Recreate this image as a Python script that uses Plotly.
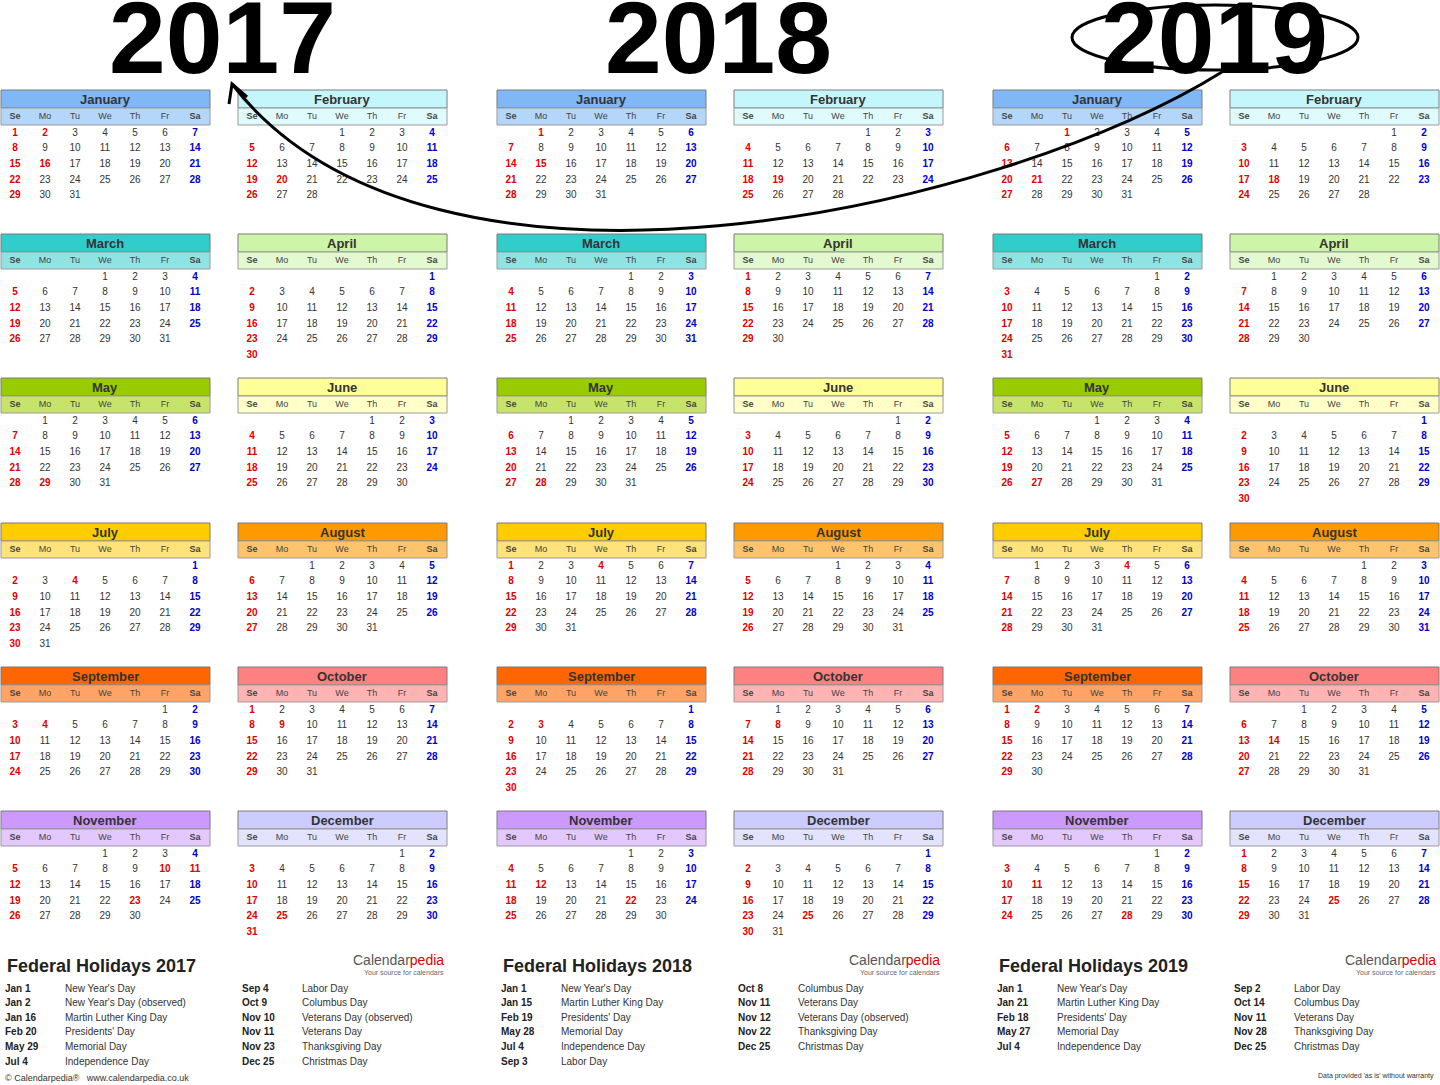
import calendar
import plotly.graph_objects as go

years = [2017, 2018, 2019]
month_names = ["January", "February", "March", "April", "May", "June", "July",
               "August", "September", "October", "November", "December"]
head_colors = ["#80b8f5", "#c4f7fc", "#33cccc", "#ccf5a8", "#99cc00", "#ffff99",
               "#ffcc00", "#ff9900", "#ff6600", "#ff8080", "#cc99ff", "#ccccff"]
sub_colors = ["#b3d6fa", "#e0fbfe", "#8fe3e3", "#e3fad0", "#c7e36b", "#ffffc8",
              "#ffe27a", "#ffc46b", "#ffa366", "#ffb3b3", "#e3c8ff", "#e3e3ff"]
weekdays = ["Se", "Mo", "Tu", "We", "Th", "Fr", "Sa"]
holidays = {
    2017: [("Jan 1", "New Year's Day"), ("Jan 2", "New Year's Day (observed)"),
           ("Jan 16", "Martin Luther King Day"), ("Feb 20", "Presidents' Day"),
           ("May 29", "Memorial Day"), ("Jul 4", "Independence Day"),
           ("Sep 4", "Labor Day"), ("Oct 9", "Columbus Day"),
           ("Nov 10", "Veterans Day (observed)"), ("Nov 11", "Veterans Day"),
           ("Nov 23", "Thanksgiving Day"), ("Dec 25", "Christmas Day")],
    2018: [("Jan 1", "New Year's Day"), ("Jan 15", "Martin Luther King Day"),
           ("Feb 19", "Presidents' Day"), ("May 28", "Memorial Day"),
           ("Jul 4", "Independence Day"), ("Sep 3", "Labor Day"),
           ("Oct 8", "Columbus Day"), ("Nov 11", "Veterans Day"),
           ("Nov 12", "Veterans Day (observed)"), ("Nov 22", "Thanksgiving Day"),
           ("Dec 25", "Christmas Day")],
    2019: [("Jan 1", "New Year's Day"), ("Jan 21", "Martin Luther King Day"),
           ("Feb 18", "Presidents' Day"), ("May 27", "Memorial Day"),
           ("Jul 4", "Independence Day"), ("Sep 2", "Labor Day"),
           ("Oct 14", "Columbus Day"), ("Nov 11", "Veterans Day"),
           ("Nov 28", "Thanksgiving Day"), ("Dec 25", "Christmas Day")],
}
abbr = ["Jan", "Feb", "Mar", "Apr", "May", "Jun", "Jul", "Aug", "Sep", "Oct", "Nov", "Dec"]

FONT = "Liberation Sans"
year_x = [0, 496, 992]
row_y = [90, 234, 378, 523, 667, 811]
MW = 210
CW = MW / 7

shapes = []
ann = []
dx, dy, dt, dc = [], [], [], []
wx, wy, wt = [], [], []

cal = calendar.Calendar(firstweekday=6)
for yi, yr in enumerate(years):
    x0 = year_x[yi]
    ann.append(dict(x=x0 + 222, y=38, text="<b>%d</b>" % yr, showarrow=False,
                    font=dict(family=FONT, size=102, color="black")))
    hol = set()
    for d, _ in holidays[yr]:
        m, n = d.split()
        hol.add((abbr.index(m) + 1, int(n)))
    for m in range(12):
        mx = x0 + (m % 2) * 237
        my = row_y[m // 2]
        shapes.append(dict(type="rect", x0=mx + 1, x1=mx + MW, y0=my, y1=my + 18, layer="below",
                           fillcolor=head_colors[m], line=dict(color="#7a7a7a", width=1)))
        shapes.append(dict(type="rect", x0=mx + 1, x1=mx + MW, y0=my + 18, y1=my + 35, layer="below",
                           fillcolor=sub_colors[m], line=dict(color="#9a9a9a", width=1)))
        ann.append(dict(x=mx + MW / 2, y=my + 9, text="<b>%s</b>" % month_names[m],
                        showarrow=False, font=dict(family=FONT, size=13, color="#333")))
        for k, w in enumerate(weekdays):
            wx.append(mx + CW * k + CW / 2)
            wy.append(my + 27)
            wt.append("<b>%s</b>" % w if k in (0, 6) else w)
        for r, week in enumerate(cal.monthdayscalendar(yr, m + 1)):
            for k, d in enumerate(week):
                if d == 0:
                    continue
                dx.append(mx + CW * k + CW / 2)
                dy.append(my + 43 + r * 15.7)
                if k == 0 or (m + 1, d) in hol:
                    dt.append("<b>%d</b>" % d); dc.append("#e00000")
                elif k == 6:
                    dt.append("<b>%d</b>" % d); dc.append("#0000cc")
                else:
                    dt.append(str(d)); dc.append("#333333")
    # footer
    ann.append(dict(x=x0 + 5, y=966, text="<b>Federal Holidays %d</b>" % yr, showarrow=False,
                    xanchor="left", font=dict(family=FONT, size=18, color="#222")))
    ann.append(dict(x=x0 + 446, y=960, text="Calendar<span style='color:#e00000'>pedia</span>",
                    showarrow=False, xanchor="right", font=dict(family=FONT, size=14, color="#555")))
    ann.append(dict(x=x0 + 446, y=972, text="Your source for calendars", showarrow=False,
                    xanchor="right", font=dict(family=FONT, size=7, color="#666")))
    hl = holidays[yr]
    half = (len(hl) + 1) // 2
    for i, (d, name) in enumerate(hl):
        col = i // half
        bx = x0 + 3 + col * 237
        yy = 988 + (i % half) * 14.6
        ann.append(dict(x=bx, y=yy, text="<b>%s</b>" % d, showarrow=False, xanchor="left",
                        font=dict(family=FONT, size=10, color="#222")))
        ann.append(dict(x=bx + 60, y=yy, text=name, showarrow=False, xanchor="left",
                        font=dict(family=FONT, size=10, color="#333")))

ann.append(dict(x=3, y=1078, text="© Calendarpedia®   www.calendarpedia.co.uk", showarrow=False,
                xanchor="left", font=dict(family=FONT, size=9, color="#333")))
ann.append(dict(x=1436, y=1076, text="Data provided 'as is' without warranty", showarrow=False,
                xanchor="right", font=dict(family=FONT, size=7, color="#333")))

# ellipse around 2019 and arrow
shapes.append(dict(type="circle", x0=1072, x1=1358, y0=5, y1=70, line=dict(color="black", width=3)))
shapes.append(dict(type="path", path="M 1222 72 C 1000 210, 430 340, 232 84",
                   line=dict(color="black", width=3)))
shapes.append(dict(type="path", path="M 229 104 L 232 84 L 247 97",
                   line=dict(color="black", width=3)))

fig = go.Figure()
fig.add_trace(go.Scatter(x=wx, y=wy, text=wt, mode="text", hoverinfo="skip",
                         textfont=dict(family=FONT, size=9, color="#444")))
fig.add_trace(go.Scatter(x=dx, y=dy, text=dt, mode="text", hoverinfo="skip",
                         textfont=dict(family=FONT, size=10, color=dc)))
fig.update_layout(width=1440, height=1085, margin=dict(l=0, r=0, t=0, b=0),
                  paper_bgcolor="white", plot_bgcolor="white", showlegend=False,
                  shapes=shapes, annotations=ann,
                  xaxis=dict(range=[0, 1440], visible=False, fixedrange=True),
                  yaxis=dict(range=[1085, 0], visible=False, fixedrange=True))
fig.write_html("out.html", config={"displayModeBar": False},
               post_script="document.body.style.margin='0px';document.body.style.overflow='hidden';")
